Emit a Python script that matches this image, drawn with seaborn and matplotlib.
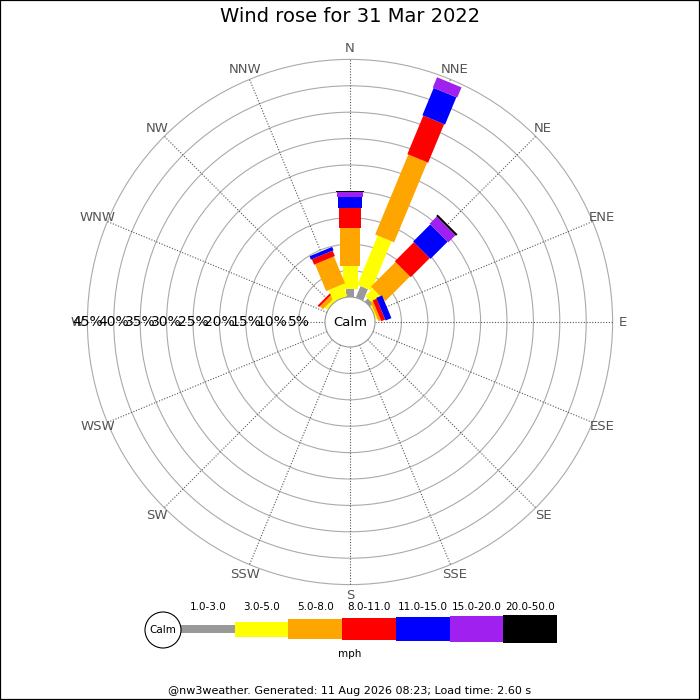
import numpy as np
import matplotlib
matplotlib.use("Agg")
import matplotlib.pyplot as plt
from matplotlib.patches import Rectangle, Circle
import seaborn as sns

# Wind rose data: percent of time per direction and speed band (mph)
directions = ["N", "NNE", "NE", "ENE", "E", "ESE", "SE", "SSE",
              "S", "SSW", "SW", "WSW", "W", "WNW", "NW", "NNW"]
band_labels = ["1.0-3.0", "3.0-5.0", "5.0-8.0", "8.0-11.0",
               "11.0-15.0", "15.0-20.0", "20.0-50.0"]
spd_1_3 = [1.5, 2.3, 0.8, 0.0, 0, 0, 0, 0, 0, 0, 0, 0, 0, 0, 0.0, 0.0]
spd_3_5 = [4.4, 10.1, 2.0, 0.3, 0, 0, 0, 0, 0, 0, 0, 0, 0, 0, 0.6, 2.4]
spd_5_8 = [7.1, 16.4, 6.6, 0.5, 0, 0, 0, 0, 0, 0, 0, 0, 0, 0, 0.8, 5.5]
spd_8_11 = [3.9, 7.9, 5.1, 0.8, 0, 0, 0, 0, 0, 0, 0, 0, 0, 0, 0.4, 1.1]
spd_11_15 = [2.1, 5.6, 4.6, 1.2, 0, 0, 0, 0, 0, 0, 0, 0, 0, 0, 0.0, 0.7]
spd_15_20 = [0.8, 2.1, 1.9, 0.0, 0, 0, 0, 0, 0, 0, 0, 0, 0, 0, 0.0, 0.0]
spd_20_50 = [0.3, 0.0, 0.4, 0.0, 0, 0, 0, 0, 0, 0, 0, 0, 0, 0, 0.0, 0.0]
ring_pcts = [5, 10, 15, 20, 25, 30, 35, 40, 45]

bands = [spd_1_3, spd_3_5, spd_5_8, spd_8_11, spd_11_15, spd_15_20, spd_20_50]
colors = sns.color_palette(["#999999", "#ffff00", "#ffa500", "#ff0000",
                            "#0000ff", "#a020f0", "#000000"])
band_px = [8, 15, 20.5, 22.5, 24.5, 26.5, 28]   # bar thickness in pixels

sns.set_style("white")
plt.rcParams["font.family"] = ["DejaVu Sans"]
plt.rcParams["text.color"] = "black"

W = H = 700
PX = 5.28              # pixels per percent
CALM = 25 / PX         # calm circle radius in percent units
cx, cy = 350, 322      # rose centre in pixels

fig = plt.figure(figsize=(7, 7), dpi=100)
ax = fig.add_axes([0, 0, 1, 1])
ax.set_xlim(-cx / PX, (W - cx) / PX)
ax.set_ylim(-(H - cy) / PX, cy / PX)
ax.axis("off")

# rings and spokes
for p in ring_pcts:
    ax.add_patch(Circle((0, 0), CALM + p, fill=False, ec="#aaaaaa", lw=0.8, zorder=1))
bearings = np.arange(16) * 22.5
r_out = CALM + ring_pcts[-1]
for b in bearings:
    t = np.deg2rad(b)
    ax.plot([CALM * np.sin(t), r_out * np.sin(t)], [CALM * np.cos(t), r_out * np.cos(t)],
            color="#555555", lw=0.8, ls=(0, (1, 1.5)), zorder=1)
    ax.text((CALM + 47) * np.sin(t), (CALM + 47) * np.cos(t), directions[int(b / 22.5)],
            ha="center", va="center", fontsize=9.5, color="#555555")

# stacked bars of constant width
for i, b in enumerate(bearings):
    start = 0.0
    for k, vals in enumerate(bands):
        v = vals[i]
        if v <= 0:
            continue
        w = band_px[k] / PX
        ax.add_patch(Rectangle((-w / 2, CALM + start), w, v, angle=-b,
                               rotation_point=(0, 0), fc=colors[k], ec="none", zorder=2))
        start += v

ax.add_patch(Circle((0, 0), CALM, fc="white", ec="#999999", lw=0.8, zorder=3))
ax.text(0, 0, "Calm", ha="center", va="center", fontsize=9.5, zorder=4)
for p in ring_pcts:
    ax.text(-(CALM + p), 0, f"{p}%", ha="center", va="center", fontsize=10, zorder=5)

fig.text(0.5, 1 - 17 / H, "Wind rose for 31 Mar 2022", ha="center", va="center",
         fontsize=14, color="black")

# legend strip, in pixel units
lg = fig.add_axes([0, 0, 1, 1])
lg.set_xlim(0, W)
lg.set_ylim(H, 0)
lg.axis("off")
lg.patch.set_alpha(0)
seg_w = 53.7
lx = 181 + seg_w / 2 + np.arange(len(band_labels)) * seg_w
lh = np.array(band_px)
lg.bar(lx, lh, bottom=629 - lh / 2, width=seg_w, color=colors, edgecolor="none", zorder=2)
for x, lab in zip(lx, band_labels):
    lg.text(x, 607, lab, ha="center", va="center", fontsize=7.5)
lg.add_patch(Circle((163, 630), 18, fc="white", ec="black", lw=0.8, zorder=3))
lg.text(163, 630, "Calm", ha="center", va="center", fontsize=7.5, zorder=4)
lg.text(350, 654, "mph", ha="center", va="center", fontsize=7.5)
lg.text(350, 691, "@nw3weather. Generated: 11 Aug 2026 08:23; Load time: 2.60 s",
        ha="center", va="center", fontsize=8)

fig.patches.append(Rectangle((0, 0), 1, 1, transform=fig.transFigure, fill=False,
                             ec="black", lw=1.6))

fig.savefig("out.png", dpi=100)
